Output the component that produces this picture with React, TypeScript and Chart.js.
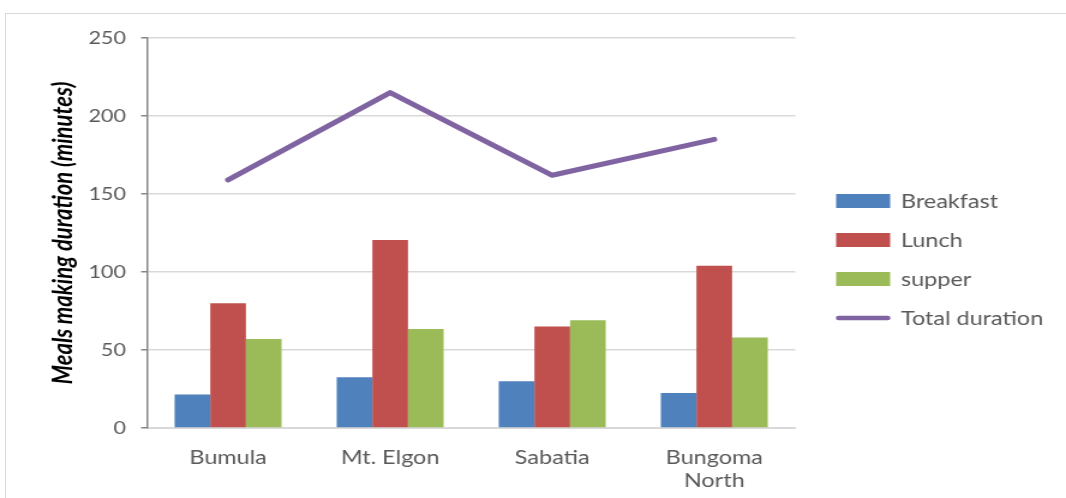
import React, { useEffect, useRef } from 'react';
import { Chart, registerables } from 'chart.js';

Chart.register(...registerables);

// ---- data ----
const categories: (string | string[])[] = ['Bumula', 'Mt. Elgon', 'Sabatia', ['Bungoma', 'North']];
const seriesNames = ['Breakfast', 'Lunch', 'supper', 'Total duration'];
const breakfast = [21.5, 32.5, 30, 22.5];
const lunch = [80, 120.5, 65, 104];
const supper = [57, 63.5, 69, 58];
const totalDuration = [159, 215, 162, 185];
const yTicks = [0, 50, 100, 150, 200, 250];
const yTitle = 'Meals making duration (minutes)';

const COLORS = ['#4f81bd', '#c0504d', '#9bbb59', '#8064a2'];

// The reference image is horizontally stretched; draw on a narrower canvas and stretch it.
const CANVAS_W = 888;
const CANVAS_H = 498;
const FONT = 'Lato';

const sideLegend = {
  id: 'sideLegend',
  afterDraw(chart: any) {
    const { ctx, chartArea } = chart;
    const x0 = chartArea.right + 34;
    const boxW = 45;
    const boxH = 14;
    const rowGap = 39;
    const mid = (chartArea.top + chartArea.bottom) / 2 + 26.5;
    const n = chart.data.datasets.length;
    ctx.save();
    ctx.font = `19.5px ${FONT}`;
    ctx.textBaseline = 'middle';
    ctx.textAlign = 'left';
    chart.data.datasets.forEach((ds: any, i: number) => {
      const y = mid + (i - (n - 1) / 2) * rowGap;
      if (ds.type === 'line') {
        ctx.strokeStyle = ds.borderColor;
        ctx.lineWidth = 4.5;
        ctx.lineCap = 'round';
        ctx.beginPath();
        ctx.moveTo(x0 + 2, y);
        ctx.lineTo(x0 + boxW - 2, y);
        ctx.stroke();
      } else {
        ctx.fillStyle = ds.backgroundColor;
        ctx.fillRect(x0, y - boxH / 2, boxW, boxH);
      }
      ctx.fillStyle = '#595959';
      ctx.fillText(ds.label, x0 + 54, y + 1);
    });
    ctx.restore();
  },
};

export default function App() {
  const ref = useRef<HTMLCanvasElement | null>(null);

  useEffect(() => {
    if (!ref.current) return;
    Chart.defaults.font.family = FONT;
    const chart = new Chart(ref.current, {
      type: 'bar',
      data: {
        labels: categories as any,
        datasets: [
          { type: 'bar', label: seriesNames[0], data: breakfast, backgroundColor: COLORS[0], order: 2 },
          { type: 'bar', label: seriesNames[1], data: lunch, backgroundColor: COLORS[1], order: 2 },
          { type: 'bar', label: seriesNames[2], data: supper, backgroundColor: COLORS[2], order: 2 },
          {
            type: 'line',
            label: seriesNames[3],
            data: totalDuration,
            borderColor: COLORS[3],
            backgroundColor: COLORS[3],
            borderWidth: 5,
            pointRadius: 0,
            tension: 0,
            borderCapStyle: 'round',
            borderJoinStyle: 'round',
            order: 1,
          } as any,
        ],
      },
      options: {
        responsive: false,
        animation: false,
        devicePixelRatio: 1,
        layout: { padding: { top: 38, left: 0, right: CANVAS_W - 662.5, bottom: 0 } },
        datasets: { bar: { categoryPercentage: 0.66, barPercentage: 1 } },
        plugins: { legend: { display: false }, tooltip: { enabled: false } },
        scales: {
          x: {
            grid: { display: false, drawTicks: false },
            border: { display: true, color: '#d9d9d9', width: 2 },
            ticks: {
              font: { family: FONT, size: 19.5, lineHeight: 1.18 },
              color: '#595959',
              padding: 18.5,
              maxRotation: 0,
              autoSkip: false,
            },
            afterFit: (s: any) => {
              s.height = 70;
            },
          },
          y: {
            min: yTicks[0],
            max: yTicks[yTicks.length - 1],
            ticks: {
              stepSize: yTicks[1] - yTicks[0],
              font: { family: FONT, size: 18 },
              color: '#595959',
              padding: 12.5,
            },
            grid: { color: '#d9d9d9', lineWidth: 1.5, tickColor: '#868686', tickLength: 5, tickWidth: 1.5 },
            border: { color: '#868686', width: 1.5 },
            title: {
              display: true,
              text: yTitle,
              color: '#000000',
              font: { family: FONT, size: 22, weight: 'bold', style: 'italic' },
              padding: { top: 40, bottom: 0 },
            },
            afterFit: (s: any) => {
              s.width = 122.5;
            },
          },
        },
      },
      plugins: [sideLegend],
    });
    return () => chart.destroy();
  }, []);

  return (
    <div>
      <div
        style={{
          position: 'fixed',
          left: 5,
          top: 13,
          width: 1200,
          height: 700,
          borderTop: '1px solid #d9d9d9',
          borderLeft: '1px solid #d9d9d9',
          boxSizing: 'border-box',
        }}
      />
      <div
        style={{
          position: 'fixed',
          left: 0,
          top: 0,
          width: CANVAS_W,
          height: CANVAS_H,
          transform: `scaleX(${1066 / CANVAS_W})`,
          transformOrigin: '0 0',
        }}
      >
        <canvas ref={ref} width={CANVAS_W} height={CANVAS_H} />
      </div>
    </div>
  );
}
